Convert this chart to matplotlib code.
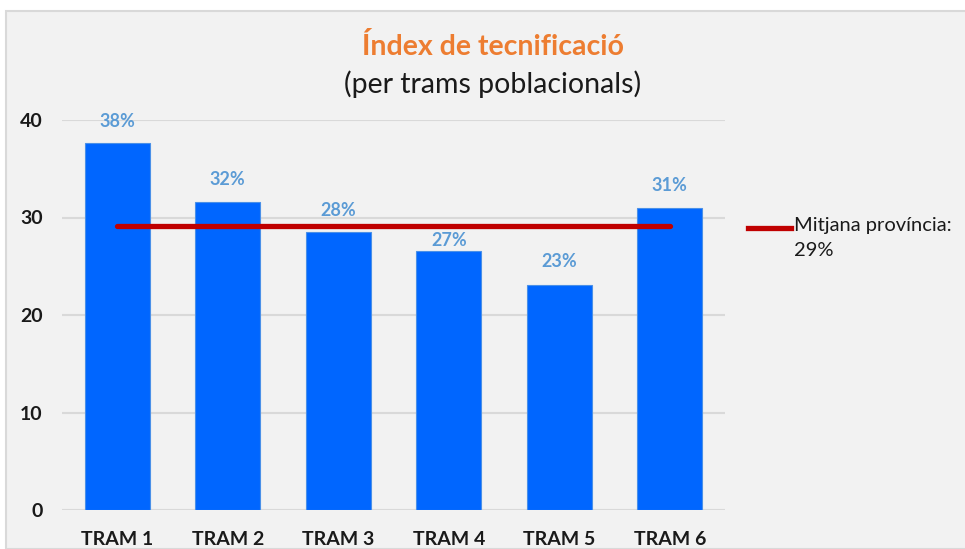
import numpy as np
import matplotlib.pyplot as plt
from matplotlib.patches import Rectangle
from matplotlib.lines import Line2D

trams = ['TRAM 1', 'TRAM 2', 'TRAM 3', 'TRAM 4', 'TRAM 5', 'TRAM 6']
index_vals = [37.6, 31.6, 28.5, 26.6, 23.1, 31.0]
labels = ['38%', '32%', '28%', '27%', '23%', '31%']
mitjana = 29.1

plt.rcParams['font.family'] = ['Lato', 'DejaVu Sans']

fig = plt.figure(figsize=(9.65, 5.49), dpi=100)
fig.patch.set_facecolor('white')
# chart area background with light border
fig.patches.append(Rectangle((6 / 965, 0), 1, 1 - 11 / 549, transform=fig.transFigure,
                             facecolor='#f2f2f2', edgecolor='#d9d9d9', lw=1.5, zorder=-10))

ax = fig.add_axes([62 / 965, 1 - 510 / 549, (725 - 62) / 965, (510 - 120) / 549])
ax.set_facecolor('none')

x = np.arange(len(trams))
ax.bar(x, index_vals, width=0.59, color='#0066ff', edgecolor='#4a90e8', lw=0.8, zorder=3)
# label for TRAM 4 sits lower so it doesn't clash with the average line
offsets = [10, 10, 9.5, 1.5, 10.5, 10]
for xi, v, lab, off in zip(x, index_vals, labels, offsets):
    ax.annotate(lab, (xi, v), xytext=(0, off), textcoords='offset points', ha='center', va='bottom',
                color='#5b9bd5', fontsize=13, fontweight='bold', annotation_clip=False, zorder=5)

ax.plot([x[0], x[-1]], [mitjana, mitjana], color='#c00000', lw=3.8, solid_capstyle='round', zorder=4)

ax.set_xlim(-0.5, 5.5)
ax.set_ylim(0, 40)
ax.set_yticks([0, 10, 20, 30, 40])
ax.yaxis.grid(True, color='#d9d9d9', lw=1.5, zorder=0)
ax.set_axisbelow(True)
for s in ax.spines.values():
    s.set_visible(False)
ax.tick_params(length=0)
ax.tick_params(axis='y', pad=14)
ax.tick_params(axis='x', pad=15)
ax.set_xticks(x)
ax.set_xticklabels(trams)
for t in ax.get_xticklabels() + ax.get_yticklabels():
    t.set_fontweight('bold')
    t.set_fontsize(14)
    t.set_color('#1a1a1a')

fig.text(493 / 965, 1 - 47 / 549, 'Índex de tecnificació', ha='center', va='center',
         color='#ed7d31', fontsize=20.5, fontweight='bold')
fig.text(493 / 965, 1 - 84 / 549, '(per trams poblacionals)', ha='center', va='center',
         color='#1a1a1a', fontsize=20.5)

fig.lines.append(Line2D([748 / 965, 791 / 965], [1 - 228 / 549, 1 - 228 / 549],
                        transform=fig.transFigure, color='#c00000', lw=3.8))
fig.text(794 / 965, 1 - 217 / 549, 'Mitjana província:\n29%', ha='left', va='top',
         fontsize=14.5, color='#1a1a1a', linespacing=1.55,
         transform=fig.transFigure)

plt.savefig('out.png', dpi=100)
